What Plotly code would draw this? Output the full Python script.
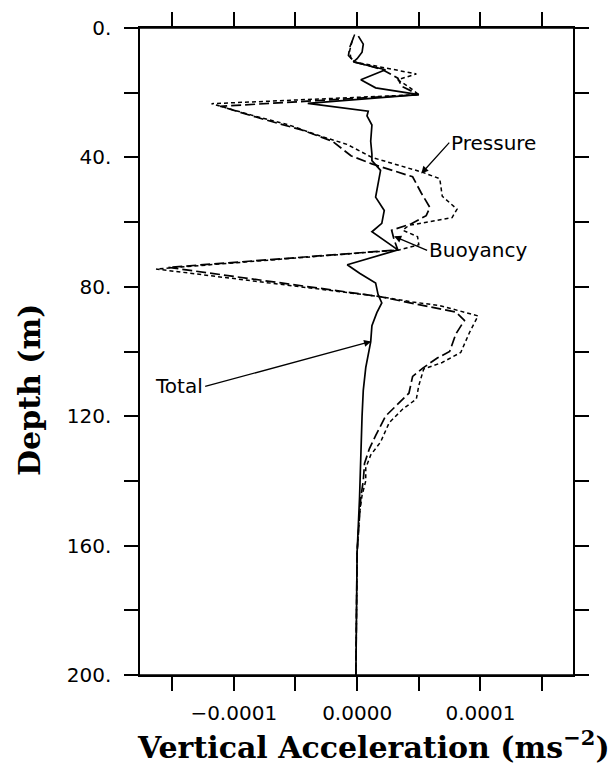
import plotly.graph_objects as go

# Acceleration values are listed in units of 1e-5 m s^-2
UNIT = 1e-5

total_depth = [2.5, 5, 7.5, 9.5, 10.5, 12.9, 16, 18.5,
               20.6, 23.3, 25.7, 27.2, 30, 35, 39, 41,
               44, 48, 52.3, 56.4, 60.4, 63, 68.6, 73.2,
               75.8, 78.8, 82.4, 85, 88, 92, 97, 105,
               112, 120, 128, 135, 145, 162, 180, 200]
total_acc = [0.1, 0.5, 0.4, 0.0, -0.3, 2.3, 0.3, 1.5,
             5.0, -4.0, 0.9, 0.8, 1.2, 1.1, 1.2, 1.2,
             1.9, 1.7, 1.5, 2.2, 2.0, 1.2, 3.3, -0.8,
             0.2, 1.5, 1.7, 2.0, 1.6, 1.2, 1.1, 0.7,
             0.5, 0.4, 0.35, 0.3, 0.2, 0.0, -0.05, -0.1]

press_depth = [2, 4, 7, 9.5, 10.5, 14.2, 16, 18.5,
               20.6, 23.4, 27, 30, 33, 36, 40, 44.6,
               46.6, 52, 56, 58.6, 61, 62.5, 64.5, 67,
               68.6, 74.5, 83, 84.7, 85.8, 89, 94.2, 100.3,
               103.4, 105.4, 110.5, 114.7, 117.8, 122, 128, 132,
               136, 140, 144.5, 150, 162, 180, 200]
press_acc = [-0.2, -0.4, -0.6, -0.5, -0.2, 4.8, 3.3, 4.3,
             5.0, -11.8, -8.5, -5.5, -3.3, -0.8, 1.2, 5.3,
             6.7, 6.9, 8.1, 7.7, 4.2, 3.7, 4.9, 5.0,
             3.4, -16.3, 1.8, 4.5, 6.7, 9.8, 9.1, 8.4,
             6.9, 5.4, 5.0, 4.8, 3.7, 2.6, 1.9, 1.1,
             0.7, 0.7, 0.4, 0.2, 0.0, -0.05, -0.1]

buoy_depth = [3, 6, 8.5, 10.5, 12.8, 15.5, 18, 20.6,
              24.2, 28.2, 31.5, 35, 39.5, 42, 46, 51,
              55.5, 58, 60.5, 62.5, 65.5, 68.6, 74, 83,
              85.5, 87.8, 90.4, 94.6, 100, 102, 105.2, 107.7,
              112.9, 116.9, 120, 126, 130, 134.6, 140, 145,
              150, 162, 180, 200]
buoy_acc = [-0.3, -0.6, -0.7, -0.2, 2.0, 3.3, 3.6, 5.0,
            -11.1, -7.6, -4.5, -2.0, -0.5, 1.2, 4.5, 5.2,
            5.9, 5.6, 4.4, 2.8, 3.0, 3.3, -15.3, 1.8,
            5.0, 8.0, 8.7, 8.0, 7.5, 6.5, 5.3, 4.5,
            4.2, 3.1, 2.3, 1.5, 1.0, 0.6, 0.5, 0.3,
            0.2, 0.0, -0.05, -0.1]

x_tickvals = [-10e-5, 0, 10e-5]
x_ticktext = ["\u22120.0001", "0.0000", "0.0001"]
x_minorvals = [-15e-5, -5e-5, 5e-5, 15e-5]
y_tickvals = [0, 40, 80, 120, 160, 200]
y_ticktext = ["0.", "40.", "80.", "120.", "160.", "200."]
y_minorvals = [20, 60, 100, 140, 180]

def scaled(vals):
    return [v * UNIT for v in vals]

fig = go.Figure()
fig.add_trace(go.Scatter(x=scaled(press_acc), y=press_depth, mode="lines",
                         name="Pressure",
                         line=dict(color="black", width=1.5, dash="4px,3px")))
fig.add_trace(go.Scatter(x=scaled(buoy_acc), y=buoy_depth, mode="lines",
                         name="Buoyancy",
                         line=dict(color="black", width=1.7, dash="10px,4px")))
fig.add_trace(go.Scatter(x=scaled(total_acc), y=total_depth, mode="lines",
                         name="Total",
                         line=dict(color="black", width=1.7)))

tick_font = dict(family="DejaVu Sans", size=20, color="black")
title_font = dict(family="DejaVu Serif", size=30, color="black", weight="bold")

tick_style = dict(ticks="outside", ticklen=14, tickwidth=1.5, tickcolor="black")
axis_common = dict(showgrid=False, zeroline=False, showline=True,
                   linecolor="black", linewidth=1.5, mirror="ticks",
                   tickfont=tick_font, **tick_style)

fig.update_xaxes(range=[-17.6e-5, 17.5e-5], tickmode="array",
                 tickvals=x_tickvals, ticktext=x_ticktext,
                 minor=dict(tickmode="array", tickvals=x_minorvals, **tick_style),
                 ticklabelstandoff=5, **axis_common)
fig.update_yaxes(range=[200, 0], tickmode="array",
                 tickvals=y_tickvals, ticktext=y_ticktext,
                 minor=dict(tickmode="array", tickvals=y_minorvals, **tick_style),
                 ticklabelstandoff=9, **axis_common)

# horizontal frame lines run a little past the corners
for yp in (0, 1):
    fig.add_shape(type="line", xref="paper", yref="paper",
                  x0=-0.028, x1=1.032, y0=yp, y1=yp,
                  line=dict(color="black", width=1.5))

label_font = dict(family="DejaVu Sans", size=20, color="black")
arrow_style = dict(showarrow=True, arrowhead=2, arrowsize=1.1,
                   arrowwidth=1.3, arrowcolor="black", font=label_font)

fig.add_annotation(x=5.2e-5, y=45, text="Pressure", ax=28, ay=-31,
                   xanchor="left", yanchor="middle", **arrow_style)
fig.add_annotation(x=3.0e-5, y=64.4, text="Buoyancy", ax=33, ay=14,
                   xanchor="left", yanchor="middle", **arrow_style)
fig.add_annotation(x=1.14e-5, y=96.9, text="Total", ax=-166, ay=45,
                   xanchor="right", yanchor="middle", **arrow_style)

fig.add_annotation(text="Vertical Acceleration (ms<sup>\u22122</sup>)",
                   xref="paper", yref="paper", x=0.54, y=-0.108,
                   xanchor="center", yanchor="middle", showarrow=False,
                   font=title_font)
fig.add_annotation(text="Depth (m)", xref="paper", yref="paper",
                   x=-0.255, y=0.44, xanchor="center", yanchor="middle",
                   textangle=-90, showarrow=False, font=title_font)

fig.update_layout(width=611, height=767, showlegend=False,
                  plot_bgcolor="white", paper_bgcolor="white",
                  margin=dict(l=140, r=38, t=23, b=92))

fig.write_html("out.html")
